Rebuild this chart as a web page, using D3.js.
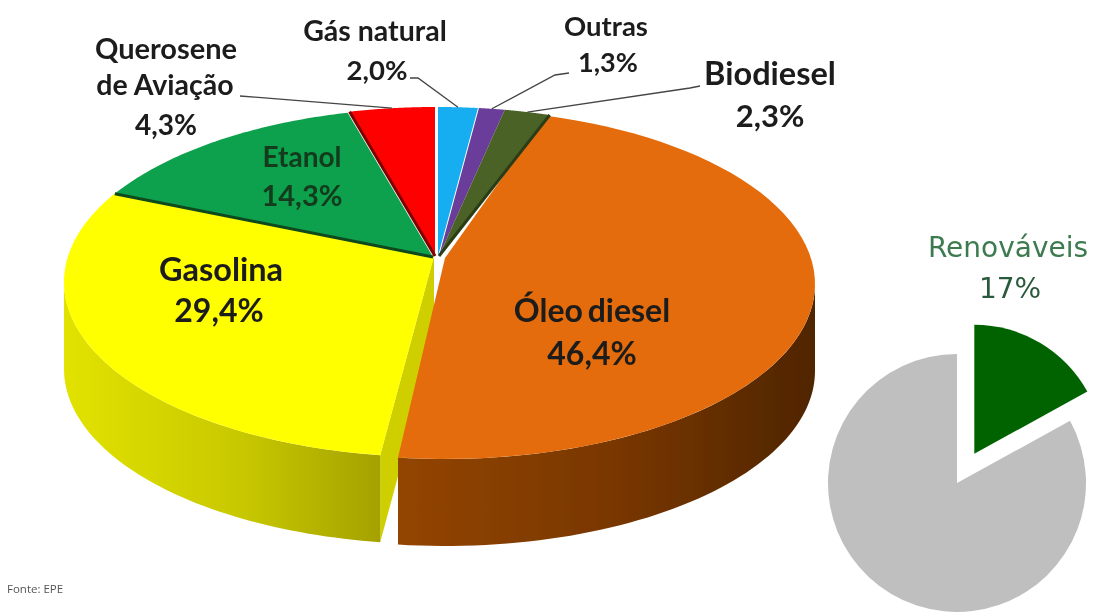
<!DOCTYPE html>
<html lang="pt"><head><meta charset="utf-8">
<style>html,body{margin:0;padding:0;background:#fff;overflow:hidden}svg{display:block}</style>
<script src="https://cdnjs.cloudflare.com/ajax/libs/d3/7.8.5/d3.min.js"></script>
</head><body><svg id="c" width="1097" height="612"></svg>
<script>
// Data
const categories = ["Gás natural","Outras","Biodiesel","Óleo diesel","Gasolina","Etanol","Querosene de Aviação"];
const values = [2.0,1.3,2.3,46.4,29.4,14.3,4.3];
const valueLabels = ["2,0%","1,3%","2,3%","46,4%","29,4%","14,3%","4,3%"];
const colors = ["#12aef0","#6a3d9a","#4b6228","#e46c0a","#ffff00","#0fa14e","#ff0000"];
const shareCategories = ["Renováveis","Outras fontes"];
const shareValues = [17,83];
const shareColors = ["#006400","#bfbfbf"];

const W=1097,H=612;
const svg=d3.select("#c");
const defs=svg.append("defs");
defs.append("filter").attr("id","soft").attr("x","-5%").attr("y","-5%").attr("width","110%").attr("height","110%")
  .append("feGaussianBlur").attr("stdDeviation",0.55);
const root=svg.append("g").attr("filter","url(#soft)");
root.append("rect").attr("width",W).attr("height",H).attr("fill","#fff");

function grad(id,x1,x2,stops){
  const g=defs.append("linearGradient").attr("id",id).attr("gradientUnits","userSpaceOnUse")
    .attr("x1",x1).attr("x2",x2).attr("y1",0).attr("y2",0);
  stops.forEach(([o,c])=>g.append("stop").attr("offset",o).attr("stop-color",c));
}
grad("wallY",66,385,[[0,"#e2e200"],[0.55,"#c8c800"],[1,"#a3a000"]]);
grad("wallO",395,815,[[0,"#934500"],[0.55,"#773600"],[1,"#4f2500"]]);

// Perspective disc: circle mapped so that its centre falls above the ellipse centre
const cx=436,cy=282,rx=370,ry=175,apexY=256,depth=87;
const t=(cy-apexY)/ry;
function proj(a,off=[0,0],r=1){
  const X=Math.sin(a)*r,Y=-Math.cos(a)*r,d=1-t*Y;
  return [cx+rx*X*Math.sqrt(1-t*t)/d+off[0], cy+ry*(Y-t)/d+off[1]];
}
const apex=off=>proj(0,off,0);
const arcs=d3.pie().sort(null).value(d=>d)(values);
const offsets=[[2,0],[3,0],[3,0],[9,2],[-2,0],[-3,1],[-1,0]];
// small angular nudges of the exploded Óleo diesel wedge, in radians
const turnStart=[0,0,0,-0.03,0,0,0];
const turnEnd=[0,0,0,-0.016,0,0,0];
const samples=(a0,a1)=>d3.range(0,61).map(i=>a0+(a1-a0)*i/60);
const line=d3.line();

// side walls
const wall=(i,fill,from,to)=>{
  const off=offsets[i],top=samples(from,to).map(a=>proj(a,off));
  const bottom=top.slice().reverse().map(p=>[p[0],p[1]+depth]);
  root.append("path").attr("d",line(top.concat(bottom))+"Z").attr("fill",fill);
};
const silhouetteR=Math.PI-Math.acos(t), silhouetteL=Math.PI+Math.acos(t);
// radial wall of Gasolina, visible beside Óleo diesel
{
  const off=offsets[4],a=arcs[4].startAngle,c=proj(a,off),p=apex(off);
  root.append("path").attr("d",line([p,c,[c[0],c[1]+depth],[p[0],p[1]+depth]])+"Z").attr("fill","#cfcf00");
}
wall(4,"url(#wallY)",arcs[4].startAngle,silhouetteL);
wall(3,"url(#wallO)",silhouetteR,arcs[3].endAngle+turnEnd[3]);

// top faces: Óleo diesel first so the small wedges lie above it
[3,4,5,6,0,1,2].forEach(i=>{
  const d=arcs[i],off=offsets[i];
  const pts=[apex(off)].concat(samples(d.startAngle+turnStart[i],d.endAngle+turnEnd[i]).map(a=>proj(a,off)));
  root.append("path").attr("d",line(pts)+"Z").attr("fill",colors[i]);
});
// dark radial edges
[[5,"startAngle","#0b4a1e"],[6,"startAngle","#7d0000"],[2,"endAngle","#2c3c14"]].forEach(([i,k,c])=>{
  root.append("path").attr("d",line([apex(offsets[i]),proj(arcs[i][k],offsets[i])]))
    .attr("stroke",c).attr("stroke-width",3).attr("fill","none");
});

// text helper
const font="Lato, Carlito, sans-serif";
function txt(x,y,s,size=28,fill="#1c1c1c",weight=700,family=font){
  return root.append("text").attr("x",x).attr("y",y).attr("text-anchor","middle")
   .attr("font-family",family).attr("font-size",size).attr("font-weight",weight).attr("fill",fill).text(s);
}
txt(375,41,categories[0],28.5); txt(377,80,valueLabels[0],27.5);
txt(606,36,categories[1],27.5); txt(608,72,valueLabels[1],27);
txt(770,85,categories[2],32.5); txt(770,127,valueLabels[2],31);
txt(592,322,categories[3],32).attr("word-spacing",-3); txt(592,365,valueLabels[3],32);
txt(221,281,categories[4],32.5); txt(219,322,valueLabels[4],32);
txt(302,167,categories[5],28,"#123a1c"); txt(302,206,valueLabels[5],29,"#123a1c");
const q=categories[6].split(" de ");
txt(166,59,q[0],29); txt(165,95,"de "+q[1],28.5); txt(166,135,valueLabels[6],28);

// leader lines: label end, elbow, then the slice's mid-angle on the rim
const mid=i=>(arcs[i].startAngle+arcs[i].endAngle)/2;
[[0,[[410,78],[418,78]]],[1,[[569,73],[555,75]]],[2,[[700,86],[690,88]]],[6,[[240,96]]]].forEach(([i,st])=>{
  const e=proj(mid(i),offsets[i]);
  root.append("path").attr("d",line(st.concat([e]))).attr("fill","none").attr("stroke","#444").attr("stroke-width",1.3);
});

root.append("text").attr("x",7).attr("y",593).attr("font-family","Open Sans, sans-serif").attr("font-size",11.5).attr("fill","#555").text("Fonte: EPE");

// small share pie
const sharePie=d3.pie().sort(null).value(d=>d)(shareValues);
const shareArc=d3.arc().innerRadius(0).outerRadius(129);
const center=[957,483];
const ex=34;
sharePie.forEach((d,i)=>{
  const m=(d.startAngle+d.endAngle)/2, k=i===0?ex:0;
  root.append("path").attr("d",shareArc(d)).attr("fill",shareColors[i])
    .attr("transform",`translate(${center[0]+k*Math.sin(m)},${center[1]-k*Math.cos(m)})`);
});
txt(1008,257,shareCategories[0],28,"#3c7a4e",400,"DejaVu Sans, sans-serif");
txt(1010,298,shareValues[0]+"%",28,"#2c5a3c",400,"DejaVu Sans, sans-serif");
</script></body></html>
